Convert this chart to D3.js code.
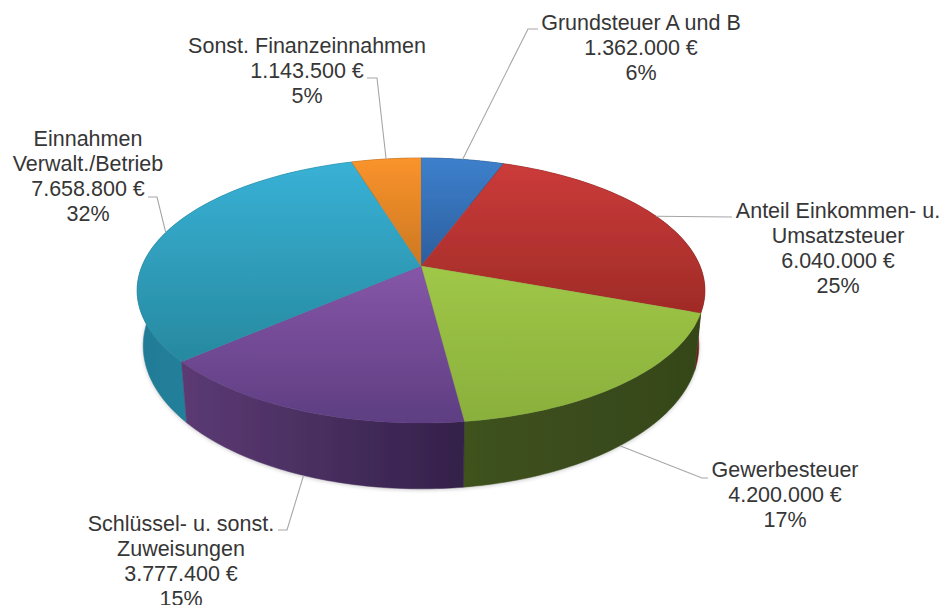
<!DOCTYPE html>
<html><head><meta charset="utf-8">
<style>html,body{margin:0;padding:0;background:#fff;overflow:hidden}svg{display:block}
text{font-family:"Liberation Sans",Arial,sans-serif;font-size:21.5px;fill:#363636;text-anchor:middle}</style>
<script src="https://cdnjs.cloudflare.com/ajax/libs/d3/7.8.5/d3.min.js"></script>
</head><body><svg id="c" width="947" height="605"></svg>
<script>
// data
const categories = ["Grundsteuer A und B","Anteil Einkommen- u. Umsatzsteuer","Gewerbesteuer","Schlüssel- u. sonst. Zuweisungen","Einnahmen Verwalt./Betrieb","Sonst. Finanzeinnahmen"];
const values = [1362000,6040000,4200000,3777400,7658800,1143500];
const amountLabels = ["1.362.000 €","6.040.000 €","4.200.000 €","3.777.400 €","7.658.800 €","1.143.500 €"];
const percentLabels = ["6%","25%","17%","15%","32%","5%"];
const nameLines = [["Grundsteuer A und B"],["Anteil Einkommen- u.","Umsatzsteuer"],["Gewerbesteuer"],["Schlüssel- u. sonst.","Zuweisungen"],["Einnahmen","Verwalt./Betrieb"],["Sonst. Finanzeinnahmen"]];
// styles and layout
const topColors = [["#3d80cc","#2c5e9e"],["#cb3b3a","#a02b27"],["#9fc747","#8ab03c"],["#8656a8","#5e3e82"],["#38b1d6","#27899f"],["#fa932b","#cc7822"]];
const wallColors = [["#24507f","#24507f"],["#8a2320","#6e1b18"],["#3f521c","#354619"],["#5c3a74","#34214a"],["#1f7b96","#2a90aa"],["#a8601a","#a8601a"]];
const labelCenters = [[641,30],[838,218],[785,477],[181,531],[88,146],[307,53]];
const leaderElbows = [[[528,29],[538,29]],[[732,217]],[[702,478],[708,478]],[[287,530],[278,530]],[[157,197],[148,197]],[[377,78],[367,78]]];
const lineStep = 25;

const svg = d3.select("#c"), defs = svg.append("defs");
const TOP = {cx:421, cy:266, R:279, s:128, k:0.185};
const BOT = {cx:421, cy:319.5, R:273, s:138, k:0.185};
const project = (P,a) => { const x=Math.sin(a), y=-Math.cos(a), w=1-P.k*y; return [P.cx+P.R*x/w, P.cy+P.s*y/w]; };
const arcPts = (P,a0,a1) => d3.range(0,61).map(i => project(P,a0+(a1-a0)*i/60));
const line = d3.line();
const pie = d3.pie().sort(null).value(d=>d)(values);

const blur = defs.append("filter").attr("id","soft").attr("x","-10%").attr("y","-10%").attr("width","120%").attr("height","120%");
blur.append("feGaussianBlur").attr("stdDeviation",2.2);
const edge = defs.append("filter").attr("id","edge").attr("x","-5%").attr("y","-5%").attr("width","110%").attr("height","110%");
edge.append("feGaussianBlur").attr("stdDeviation",0.45);

// soft shadow below the pie
svg.append("path").attr("d",line(arcPts({...BOT,cy:BOT.cy+1},0,2*Math.PI))+"Z").attr("fill","#8d8d8d").attr("opacity",.55).attr("filter","url(#soft)");

const pieG = svg.append("g").attr("filter","url(#edge)");

// walls, back to front
const order = d3.range(pie.length).sort((a,b)=> Math.cos(pie[b].startAngle/2+pie[b].endAngle/2)-Math.cos(pie[a].startAngle/2+pie[a].endAngle/2));
order.forEach(i=>{
  const p=pie[i], t=arcPts(TOP,p.startAngle,p.endAngle), b=arcPts(BOT,p.startAngle,p.endAngle).reverse();
  const xs=t.concat(b).map(d=>d[0]);
  const g=defs.append("linearGradient").attr("id","w"+i).attr("gradientUnits","userSpaceOnUse")
    .attr("x1",d3.min(xs)).attr("x2",d3.max(xs)).attr("y1",0).attr("y2",0);
  g.append("stop").attr("offset",0).attr("stop-color",wallColors[i][0]);
  g.append("stop").attr("offset",1).attr("stop-color",wallColors[i][1]);
  pieG.append("path").attr("d",line(t.concat(b))+"Z").attr("fill",`url(#w${i})`).attr("stroke",`url(#w${i})`).attr("stroke-width",.5);
});
// top faces
pie.forEach((p,i)=>{
  const g=defs.append("linearGradient").attr("id","t"+i).attr("x1",0).attr("x2",0).attr("y1",0).attr("y2",1);
  g.append("stop").attr("offset",0).attr("stop-color",topColors[i][0]);
  g.append("stop").attr("offset",1).attr("stop-color",topColors[i][1]);
  pieG.append("path").attr("d",line([[TOP.cx,TOP.cy]].concat(arcPts(TOP,p.startAngle,p.endAngle)))+"Z")
    .attr("fill",`url(#t${i})`).attr("stroke",topColors[i][1]).attr("stroke-width",.3);
});
// leaders, starting at each slice's mid-angle
pie.forEach((p,i)=>{
  const mid=(p.startAngle+p.endAngle)/2, front=Math.cos(mid)<0 && Math.abs(Math.sin(mid))<0.8;
  const start=project(front?BOT:TOP,mid);
  svg.append("path").attr("d",line([start].concat(leaderElbows[i]))).attr("fill","none").attr("stroke","#a6a6a6").attr("stroke-width",1.1);
});
// labels
categories.forEach((c,i)=>{
  const t=svg.append("text").attr("x",labelCenters[i][0]).attr("y",labelCenters[i][1]);
  nameLines[i].concat([amountLabels[i],percentLabels[i]]).forEach((s,j)=>{
    t.append("tspan").attr("x",labelCenters[i][0]).attr("y",labelCenters[i][1]+j*lineStep).text(s);
  });
});
</script></body></html>
